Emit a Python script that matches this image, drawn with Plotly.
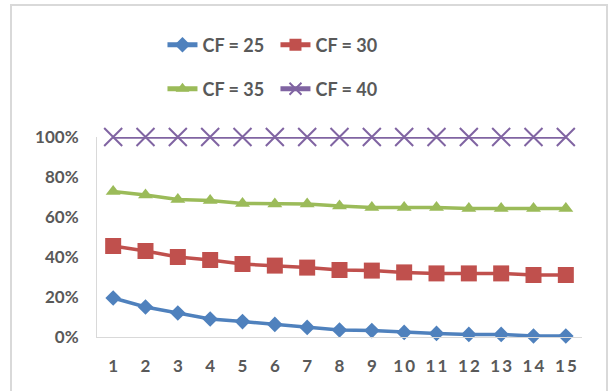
import plotly.graph_objects as go

# Periods on the horizontal axis
periods = list(range(1, 16))
period_labels = ["1", "2", "3", "4", "5", "6", "7", "8", "9",
                 "1\u20090", "1\u20091", "1\u20092", "1\u20093", "1\u20094", "1\u20095"]

# Share per period for each CF level
cf25 = [0.195, 0.15, 0.12, 0.09, 0.077, 0.063, 0.048, 0.035, 0.032, 0.023, 0.018, 0.013, 0.013, 0.005, 0.005]
cf30 = [0.455, 0.43, 0.40, 0.385, 0.365, 0.357, 0.347, 0.335, 0.332, 0.323, 0.318, 0.318, 0.318, 0.31, 0.31]
cf35 = [0.727, 0.71, 0.688, 0.682, 0.668, 0.665, 0.665, 0.655, 0.648, 0.648, 0.648, 0.642, 0.642, 0.642, 0.642]
cf40 = [1.0] * 15

y_ticks = [0, 0.2, 0.4, 0.6, 0.8, 1.0]
y_tick_labels = ["0%", "20%", "40%", "60%", "80%", "100%"]

GREY_TEXT = "#595959"
GREY_LINE = "#d9d9d9"
FONT = "Lato"

fig = go.Figure()

series = [
    ("CF = 25", cf25, "#4f81bd", dict(symbol="diamond", size=12), "legend"),
    ("CF = 30", cf30, "#c0504d", dict(symbol="square", size=16), "legend"),
    ("CF = 35", cf35, "#9bbb59", dict(symbol="triangle-up", size=13), "legend2"),
    ("CF = 40", cf40, "#8064a2", dict(symbol="x-thin", size=18, line=dict(width=2)), "legend2"),
]

for name, vals, color, marker, lg in series:
    m = dict(color=color, **marker)
    if "line" in m:
        m["line"] = dict(width=m["line"]["width"], color=color)
    fig.add_trace(go.Scatter(
        x=periods, y=vals, name=name, mode="lines+markers",
        line=dict(color=color, width=3.5),
        marker=m, legend=lg, cliponaxis=False,
    ))

legend_common = dict(
    orientation="h", xanchor="left", yanchor="middle",
    font=dict(family=FONT, size=18, color=GREY_TEXT, weight="bold"),
    bgcolor="rgba(0,0,0,0)", entrywidth=68, entrywidthmode="pixels",
    itemsizing="constant", itemclick=False, itemdoubleclick=False,
)

fig.update_layout(
    width=613, height=391,
    margin=dict(l=97, r=31, t=137, b=54),
    paper_bgcolor="white", plot_bgcolor="white",
    showlegend=True,
    legend=dict(x=0.135, y=1.46, **legend_common),
    legend2=dict(x=0.135, y=1.24, **legend_common),
    xaxis=dict(
        range=[0.5, 15.5], tickmode="array", tickvals=periods, ticktext=period_labels,
        showgrid=False, zeroline=False, showline=True, linecolor=GREY_LINE, linewidth=1,
        ticks="", ticklabelstandoff=14,
        tickfont=dict(family=FONT, size=17, color=GREY_TEXT, weight="bold"),
        fixedrange=True,
    ),
    yaxis=dict(
        range=[0, 1], tickmode="array", tickvals=y_ticks, ticktext=y_tick_labels,
        showgrid=False, zeroline=False, showline=True, linecolor=GREY_LINE, linewidth=1,
        ticks="", ticklabelstandoff=14,
        tickfont=dict(family=FONT, size=17, color=GREY_TEXT, weight="bold"),
        fixedrange=True,
    ),
)

# Chart frame
fig.add_shape(type="rect", xref="paper", yref="paper",
              x0=(11 - 97) / 485, x1=(607 - 97) / 485,
              y0=(337 - 393) / 200, y1=(337 - 5) / 200,
              line=dict(color=GREY_LINE, width=2), fillcolor="rgba(0,0,0,0)", layer="below")

fig.write_html("out.html", config={"displayModeBar": False})
